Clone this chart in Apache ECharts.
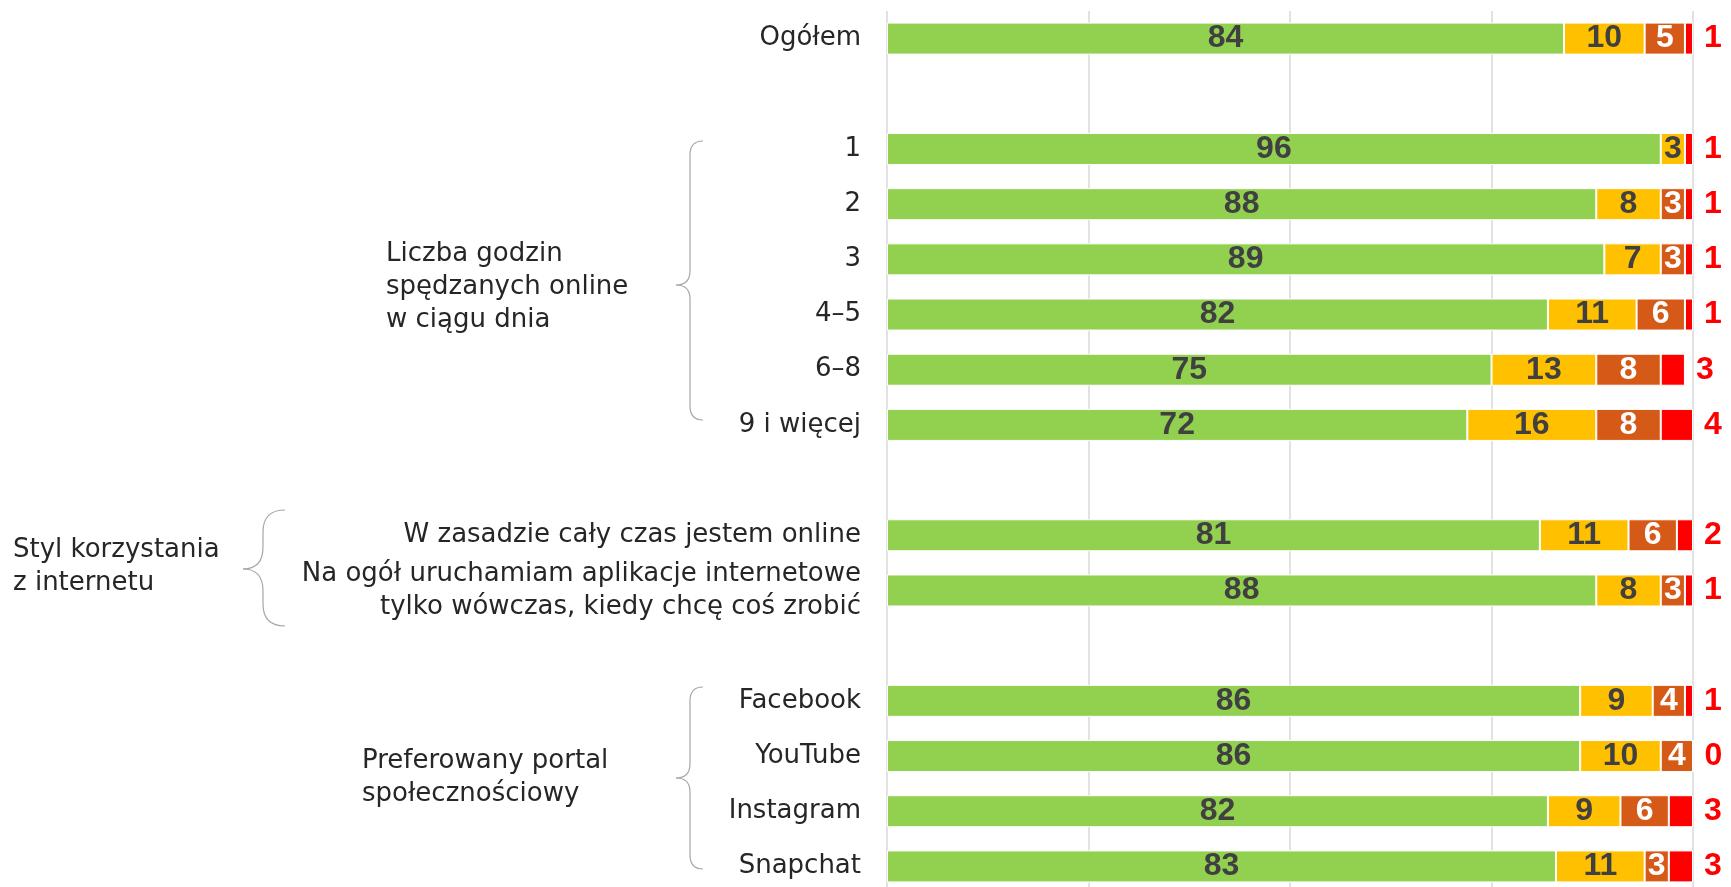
<!DOCTYPE html>
<html>
<head>
<meta charset="utf-8">
<script src="https://cdn.jsdelivr.net/npm/echarts@6/dist/echarts.min.js"></script>
<style>
  html, body { margin: 0; padding: 0; background: #fff; }
  #chart { width: 1731px; height: 887px; }
</style>
</head>
<body>
<div id="chart"></div>
<script>
// kategorie (puste pozycje = odstępy między grupami)
var categories = [
  'Ogółem', ' ',
  '1', '2', '3', '4–5', '6–8', '9 i więcej', '  ',
  'W zasadzie cały czas jestem online',
  'Na ogół uruchamiam aplikacje internetowe\ntylko wówczas, kiedy chcę coś zrobić', '   ',
  'Facebook', 'YouTube', 'Instagram', 'Snapchat'
];
var green  = [84, null, 96, 88, 89, 82, 75, 72, null, 81, 88, null, 86, 86, 82, 83];
var yellow = [10, null, 3, 8, 7, 11, 13, 16, null, 11, 8, null, 9, 10, 9, 11];
var orange = [5, null, 0, 3, 3, 6, 8, 8, null, 6, 3, null, 4, 4, 6, 3];
var red    = [1, null, 1, 1, 1, 1, 3, 4, null, 2, 1, null, 1, 0, 3, 3];

var labelFont = 'DejaVu Sans';
var numFont = 'Liberation Sans';

function hideZero(p) {
  return p.value ? p.value : '';
}

function seg(name, data, color, labelColor) {
  return {
    name: name,
    type: 'bar',
    stack: 'all',
    barWidth: 32,
    data: data,
    itemStyle: { color: color, borderColor: '#fff', borderWidth: 1 },
    label: {
      show: true,
      position: 'inside',
      color: labelColor,
      fontFamily: numFont,
      fontWeight: 'bold',
      fontSize: 32,
      formatter: hideZero
    }
  };
}

// nawias klamrowy z krzywych i linii
function brace(xTip, xMid, xEnd, yTop, yTip, yBot, r) {
  var st = { fill: null, stroke: '#a6a6a6', lineWidth: 1.2 };
  function q(x1, y1, cx, cy, x2, y2) {
    return { type: 'bezierCurve', shape: { x1: x1, y1: y1, cpx1: cx, cpy1: cy, x2: x2, y2: y2 }, style: st, silent: true };
  }
  function l(x1, y1, x2, y2) {
    return { type: 'line', shape: { x1: x1, y1: y1, x2: x2, y2: y2 }, style: st, silent: true };
  }
  return {
    type: 'group',
    children: [
      q(xEnd, yTop, xMid, yTop, xMid, yTop + r),
      l(xMid, yTop + r, xMid, yTip - r),
      q(xMid, yTip - r, xMid, yTip, xTip, yTip),
      q(xTip, yTip, xMid, yTip, xMid, yTip + r),
      l(xMid, yTip + r, xMid, yBot - r),
      q(xMid, yBot - r, xMid, yBot, xEnd, yBot)
    ]
  };
}

function groupText(x, y, txt) {
  return {
    type: 'text',
    x: x,
    y: y,
    style: {
      text: txt,
      fill: '#262626',
      font: '26px "' + labelFont + '"',
      lineHeight: 33,
      verticalAlign: 'middle'
    },
    silent: true
  };
}

var chart = echarts.init(document.getElementById('chart'));
var option = {
  animation: false,
  grid: { left: 887, top: 11, width: 806, height: 883, outerBoundsMode: 'none' },
  xAxis: {
    type: 'value',
    min: 0,
    max: 100,
    interval: 25,
    axisLabel: { show: false },
    axisLine: { show: false },
    axisTick: { show: false },
    splitLine: { show: true, lineStyle: { color: '#d9d9d9', width: 1.5 } }
  },
  yAxis: {
    type: 'category',
    inverse: true,
    data: categories,
    axisLine: { show: false },
    axisTick: { show: false },
    axisLabel: {
      margin: 26,
      color: '#262626',
      fontFamily: labelFont,
      fontSize: 26,
      lineHeight: 33,
      interval: 0
    }
  },
  series: [
    seg('zielony', green, '#92d050', '#404040'),
    seg('żółty', yellow, '#ffc000', '#404040'),
    seg('pomarańczowy', orange, '#d55a17', '#ffffff'),
    {
      name: 'czerwony',
      type: 'bar',
      stack: 'all',
      barWidth: 32,
      data: red,
      itemStyle: { color: '#ff0000', borderColor: '#fff', borderWidth: 1 },
      label: {
        show: true,
        position: 'right',
        distance: 11,
        color: '#ff0000',
        fontFamily: numFont,
        fontWeight: 'bold',
        fontSize: 32
      }
    }
  ],
  graphic: [
    brace(676, 690, 703, 141, 285, 420, 14),
    brace(243, 263, 285, 510, 569, 626, 22),
    brace(676, 690, 703, 687, 778, 869, 14),
    groupText(386, 287, 'Liczba godzin\nspędzanych online\nw ciągu dnia'),
    groupText(13, 567, 'Styl korzystania\nz internetu'),
    groupText(362, 778, 'Preferowany portal\nspołecznościowy')
  ]
};
chart.setOption(option);
</script>
</body>
</html>
